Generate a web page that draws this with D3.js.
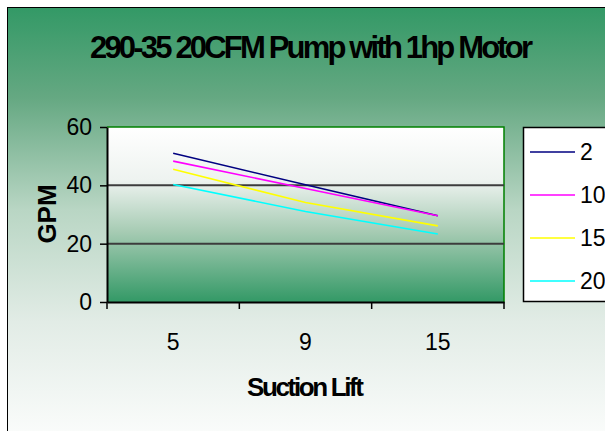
<!DOCTYPE html>
<html>
<head>
<meta charset="utf-8">
<script src="https://cdn.jsdelivr.net/npm/d3@7"></script>
<style>
  body { margin: 0; background: #fff; }
  svg { display: block; font-family: Arial, "Liberation Sans", sans-serif; }
</style>
</head>
<body>
<svg id="chart" width="605" height="431"></svg>
<script>
// chart values
const categories = ["5", "9", "15"];
const seriesNames = ["2", "10", "15", "20"];
const seriesColors = ["#000080", "#ff00ff", "#ffff00", "#00ffff"];
const series2 = [51, 40.2, 29.6];
const series10 = [48.3, 38.9, 29.6];
const series15 = [45.5, 34.1, 26.1];
const series20 = [40.3, 31, 23.3];
const yTicks = [0, 20, 40, 60];

const seriesValues = [series2, series10, series15, series20];

const plot = { left: 107, right: 504, top: 127, bottom: 302 };

const svg = d3.select("#chart");
const defs = svg.append("defs");

// outer background: green at top fading to white
const bgGrad = defs.append("linearGradient")
  .attr("id", "bgGrad").attr("x1", 0).attr("y1", 0).attr("x2", 0).attr("y2", 1);
[[0, "#339966"], [0.2, "#65a882"], [0.45, "#b9d6c4"], [0.7, "#e2ece6"], [1, "#ffffff"]]
  .forEach(s => bgGrad.append("stop").attr("offset", s[0]).attr("stop-color", s[1]));

// plot area: white at top fading to green
const plotGrad = defs.append("linearGradient")
  .attr("id", "plotGrad").attr("x1", 0).attr("y1", 0).attr("x2", 0).attr("y2", 1);
[[0, "#ffffff"], [0.3, "#eef3f0"], [0.6, "#a6cbb3"], [1, "#339966"]]
  .forEach(s => plotGrad.append("stop").attr("offset", s[0]).attr("stop-color", s[1]));

svg.append("rect")
  .attr("x", 7.5).attr("y", 7.5)
  .attr("width", 640).attr("height", 450)
  .attr("fill", "url(#bgGrad)")
  .attr("stroke", "#000").attr("stroke-width", 1);

// scales
const xScale = d3.scaleBand().domain(categories).range([plot.left, plot.right]).padding(0);
const yScale = d3.scaleLinear().domain([0, 60]).range([plot.bottom, plot.top]);

// plot area
svg.append("rect")
  .attr("x", plot.left).attr("y", plot.top)
  .attr("width", plot.right - plot.left).attr("height", plot.bottom - plot.top)
  .attr("fill", "url(#plotGrad)");

svg.append("path")
  .attr("d", `M${plot.left},${plot.top}H${plot.right}V${plot.bottom}`)
  .attr("fill", "none").attr("stroke", "#008000").attr("stroke-width", 1.5);

// gridlines
svg.append("g")
  .selectAll("line")
  .data(yTicks.filter(d => d > 0 && d < 60))
  .join("line")
  .attr("x1", plot.left).attr("x2", plot.right)
  .attr("y1", d => yScale(d)).attr("y2", d => yScale(d))
  .attr("stroke", "#3c3c3c").attr("stroke-width", 2);

// y axis
const yAxis = svg.append("g")
  .attr("transform", `translate(${plot.left},0)`)
  .call(d3.axisLeft(yScale).tickValues(yTicks).tickSize(7).tickPadding(8).tickSizeOuter(0));
yAxis.select(".domain").attr("stroke", "#000").attr("stroke-width", 2);
yAxis.selectAll(".tick line").attr("stroke", "#000").attr("stroke-width", 1.5);
yAxis.selectAll(".tick text")
  .attr("font-size", 23).attr("fill", "#000")
  .style("font-family", "Arial, 'Liberation Sans', sans-serif");

// x axis: labels at band centres, ticks on band edges
const xAxis = svg.append("g")
  .attr("transform", `translate(0,${plot.bottom})`)
  .call(d3.axisBottom(xScale).tickSize(0).tickPadding(32).tickSizeOuter(0));
xAxis.select(".domain").attr("stroke", "#000").attr("stroke-width", 2);
xAxis.selectAll(".tick text")
  .attr("font-size", 23).attr("fill", "#000")
  .style("font-family", "Arial, 'Liberation Sans', sans-serif");

const edges = categories.map(c => xScale(c)).concat([xScale.range()[1]]);
xAxis.selectAll(".edge")
  .data(edges)
  .join("line")
  .attr("class", "edge")
  .attr("x1", d => d).attr("x2", d => d)
  .attr("y1", 0).attr("y2", 7)
  .attr("stroke", "#000").attr("stroke-width", 1.5);

// series lines
const line = d3.line()
  .x((d, i) => xScale(categories[i]) + xScale.bandwidth() / 2)
  .y(d => yScale(d));

svg.append("g")
  .selectAll("path")
  .data(seriesValues)
  .join("path")
  .attr("d", d => line(d))
  .attr("fill", "none")
  .attr("stroke", (d, i) => seriesColors[i])
  .attr("stroke-width", 1.6);

// titles
svg.append("text")
  .attr("x", 90).attr("y", 58)
  .attr("font-size", 31).attr("font-weight", "bold")
  .attr("textLength", 443).attr("lengthAdjust", "spacing")
  .text("290-35 20CFM Pump with 1hp Motor");

svg.append("text")
  .attr("x", 247).attr("y", 396)
  .attr("font-size", 26).attr("font-weight", "bold")
  .attr("textLength", 117).attr("lengthAdjust", "spacing")
  .text("Suction Lift");

svg.append("text")
  .attr("transform", "translate(47,214) rotate(-90)")
  .attr("text-anchor", "middle")
  .attr("dominant-baseline", "central")
  .attr("font-size", 26).attr("font-weight", "bold")
  .text("GPM");

// legend
const legend = svg.append("g");
legend.append("rect")
  .attr("x", 523.5).attr("y", 127.5)
  .attr("width", 120).attr("height", 174)
  .attr("fill", "#fff").attr("stroke", "#000").attr("stroke-width", 1.5);

const rows = legend.selectAll(".row")
  .data(seriesNames)
  .join("g")
  .attr("class", "row")
  .attr("transform", (d, i) => `translate(530,${152 + i * 43})`);

rows.append("line")
  .attr("x1", 0).attr("x2", 45)
  .attr("stroke", (d, i) => seriesColors[i])
  .attr("stroke-width", 1.6);

rows.append("text")
  .attr("x", 50)
  .attr("dominant-baseline", "central")
  .attr("font-size", 23)
  .text(d => d);
</script>
</body>
</html>
